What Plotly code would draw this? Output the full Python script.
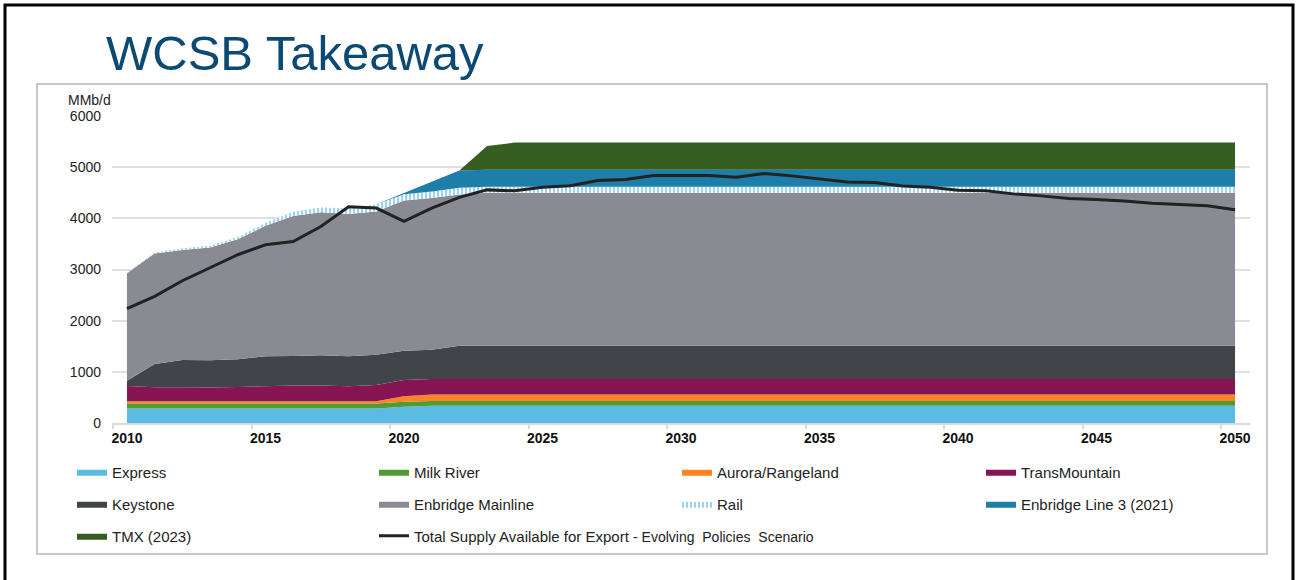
import plotly.graph_objects as go

# ---------------- data (MMb/d) ----------------
years = list(range(2010, 2051))

express = [285, 285, 285, 285, 285, 285, 285, 285, 285, 285,
           320,
           335, 335, 335, 335, 335, 335, 335, 335, 335, 335,
           335, 335, 335, 335, 335, 335, 335, 335, 335, 335,
           335, 335, 335, 335, 335, 335, 335, 335, 335, 335]

milk_river = [95, 95, 95, 95, 95, 95, 95, 95, 95, 95,
              95,
              95, 95, 95, 95, 95, 95, 95, 95, 95, 95,
              95, 95, 95, 95, 95, 95, 95, 95, 95, 95,
              95, 95, 95, 95, 95, 95, 95, 95, 95, 95]

aurora = [45, 45, 45, 45, 45, 45, 45, 45, 45, 45,
          110,
          125, 125, 125, 125, 125, 125, 125, 125, 125, 125,
          125, 125, 125, 125, 125, 125, 125, 125, 125, 125,
          125, 125, 125, 125, 125, 125, 125, 125, 125, 125]

transmountain = [298, 273, 273, 267, 280, 299, 306, 306, 293, 318,
                 314,
                 304, 304, 304, 304, 304, 304, 304, 304, 304, 304,
                 304, 304, 304, 304, 304, 304, 304, 304, 304, 304,
                 304, 304, 304, 304, 304, 304, 304, 304, 304, 304]

keystone = [104, 455, 533, 533, 539, 579, 579, 592, 585, 593,
            573, 573, 651,
            651, 651, 651, 651, 651, 651, 651, 651, 651, 651,
            651, 651, 651, 651, 651, 651, 651, 651, 651, 651,
            651, 651, 651, 651, 651, 651, 651, 651]

mainline = [2098, 2162, 2149, 2207, 2345, 2552, 2734, 2797, 2780, 2799,
            2938, 2963, 2955,
            2990, 2990, 2990, 2990, 2990, 2990, 2990, 2990, 2990, 2990,
            2990, 2990, 2990, 2990, 2990, 2990, 2990, 2990, 2990, 2990,
            2990, 2990, 2990, 2990, 2990, 2990, 2990, 2990]

rail = [15, 15, 33, 33, 46, 59, 85, 93, 111, 140,
        120, 130, 135,
        115, 115, 115, 115, 115, 115, 115, 115, 115, 115,
        115, 115, 115, 115, 115, 115, 115, 115, 115, 115,
        115, 115, 115, 115, 115, 115, 115, 115]

line3 = [0, 0, 0, 0, 0, 0, 0, 0, 0, 0,
         25, 190, 335,
         335, 335, 335, 335, 335, 335, 335, 335, 335, 335,
         335, 335, 335, 335, 335, 335, 335, 335, 335, 335,
         335, 335, 335, 335, 335, 335, 335, 335]

tmx = [0, 0, 0, 0, 0, 0, 0, 0, 0, 0,
       0, 0, 0,
       466,
       530, 530, 530, 530, 530, 530, 530, 530, 530,
       530, 530, 530, 530, 530, 530, 530, 530, 530, 530,
       530, 530, 530, 530, 530, 530, 530, 530, 530]

total_supply = [2233, 2474, 2780, 3027, 3288, 3483, 3548, 3840, 4225, 4200,
                3940, 4199, 4410, 4556, 4537, 4609, 4635, 4739, 4759, 4837,
                4837, 4837, 4804, 4876, 4830, 4772, 4710, 4699, 4634, 4608,
                4550, 4537, 4478, 4439, 4387, 4368, 4341, 4296, 4276, 4244,
                4170]

x_tick_vals = [2010, 2015, 2020, 2025, 2030, 2035, 2040, 2045, 2050]
x_tick_text = ["2010", "2015", "2020", "2025", "2030", "2035", "2040", "2045", "2050"]
x_minor_ticks = [2009.5, 2014.5, 2019.5, 2024.5, 2029.5, 2034.5, 2039.5, 2044.5, 2049.5]
y_tick_vals = [0, 1000, 2000, 3000, 4000, 5000, 6000]

# ---------------- layout geometry ----------------
W, H = 1297, 580
ML, MR, MT, MB = 112, 47, 116, 157
PW = W - ML - MR
PH = H - MT - MB


def px_x(px):
    return (px - ML) / PW


def px_y(py):
    return (H - MB - py) / PH


FONT = "Liberation Sans, Arial, sans-serif"

fig = go.Figure()

# (name, values, colour, legend column)
areas = [
    ("Express", express, "#5cbbe3", "legend"),
    ("Milk River", milk_river, "#519b37", "legend2"),
    ("Aurora/Rangeland", aurora, "#fd8424", "legend3"),
    ("TransMountain", transmountain, "#871554", "legend4"),
    ("Keystone", keystone, "#414549", "legend"),
    ("Enbridge Mainline", mainline, "#8a8a93", "legend2"),
    ("Rail", rail, "#ffffff", "legend3"),
    ("Enbridge Line 3 (2021)", line3, "#1c7ea9", "legend4"),
    ("TMX (2023)", tmx, "#365e23", "legend"),
]

for name, vals, col, lg in areas:
    kw = {}
    if name == "Rail":
        kw["fillpattern"] = dict(shape="|", fgcolor="#3fa6d8", bgcolor="#ffffff",
                                 size=4, solidity=0.55)
    fig.add_trace(go.Scatter(
        x=years, y=vals, name=name, mode="lines",
        stackgroup="cap", line=dict(width=0, color=col),
        fillcolor=col, legend=lg, legendgroup=name, **kw))

total_name = ("Total Supply Available for Export "
              "<span style='font-size:14px'>- Evolving\u00a0 Policies\u00a0 Scenario</span>")
fig.add_trace(go.Scatter(
    x=years, y=total_supply, mode="lines", name=total_name,
    line=dict(color="#222222", width=3), legend="legend2",
    legendgroup="total"))

ROW1, ROW2, ROW3 = 472, 504, 536


def col_legend(px_left, center_py):
    return dict(
        orientation="v", xref="container", yref="container",
        x=px_left / W, y=1 - center_py / H,
        xanchor="left", yanchor="middle",
        font=dict(family=FONT, size=15, color="#222222"),
        bgcolor="rgba(0,0,0,0)", borderwidth=0,
        traceorder="grouped", tracegroupgap=9.5,
    )


fig.update_layout(
    width=W, height=H,
    margin=dict(l=ML, r=MR, t=MT, b=MB, autoexpand=False),
    paper_bgcolor="white", plot_bgcolor="white",
    font=dict(family=FONT, color="#222222"),
    showlegend=True,
    legend=col_legend(72, ROW2),
    legend2=col_legend(374, ROW2),
    legend3=col_legend(677, (ROW1 + ROW2) / 2),
    legend4=col_legend(981, (ROW1 + ROW2) / 2),
    xaxis=dict(
        range=[2009.46, 2050.54], tickmode="array",
        tickvals=x_tick_vals, ticktext=x_tick_text,
        tickfont=dict(family=FONT, size=14, color="#111111", weight="bold"),
        showgrid=False, zeroline=False, showline=True,
        linecolor="#d9d9d9", linewidth=2, ticks="",
        ticklabelstandoff=1, automargin=False,
        minor=dict(tickmode="array", tickvals=x_minor_ticks, ticks="outside",
                   ticklen=4, tickwidth=2, tickcolor="#d9d9d9", showgrid=False),
    ),
    yaxis=dict(
        range=[0, 6000], tickmode="array", tickvals=y_tick_vals,
        tickfont=dict(family=FONT, size=14, color="#222222"),
        showgrid=True, gridcolor="#e0e0e0", gridwidth=2,
        zeroline=False, showline=False, ticks="",
        ticklabelstandoff=10, automargin=False,
    ),
    shapes=[
        dict(type="rect", xref="paper", yref="paper",
             x0=px_x(5), x1=px_x(1293), y0=px_y(5), y1=px_y(640),
             line=dict(color="black", width=3), fillcolor="rgba(0,0,0,0)"),
        dict(type="rect", xref="paper", yref="paper",
             x0=px_x(37), x1=px_x(1267), y0=px_y(84), y1=px_y(554),
             line=dict(color="#c8c8c8", width=2), fillcolor="rgba(0,0,0,0)",
             layer="below"),
    ],
    annotations=[
        dict(text="WCSB Takeaway", xref="paper", yref="paper",
             x=px_x(104), y=px_y(53), xanchor="left", yanchor="middle",
             showarrow=False,
             font=dict(family=FONT, size=49, color="#0c4a73")),
        dict(text="MMb/d", xref="paper", yref="paper",
             x=px_x(66), y=px_y(100), xanchor="left", yanchor="middle",
             showarrow=False,
             font=dict(family=FONT, size=14, color="#222222")),
    ],
)

fig.write_html("out.html")
